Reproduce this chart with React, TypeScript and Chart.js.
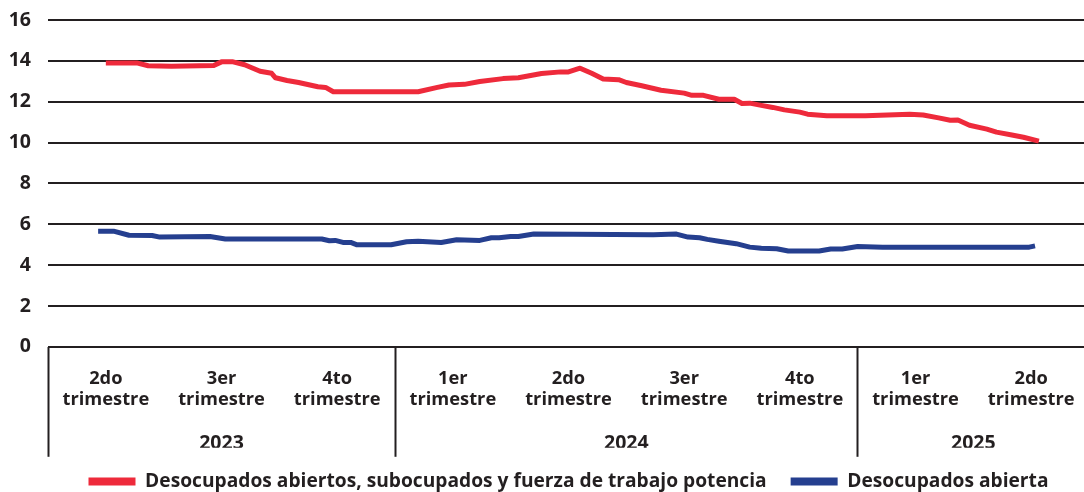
import React, { useEffect, useRef } from "react";
import { Chart, registerables } from "chart.js";

Chart.register(...registerables);

// x values are months counted from 1 April 2023
const quarterCenters = [1.5, 4.5, 7.5, 10.5, 13.5, 16.5, 19.5, 22.5, 25.5];
const quarterLabels = [
  ["2do", "trimestre"],
  ["3er", "trimestre"],
  ["4to", "trimestre"],
  ["1er", "trimestre"],
  ["2do", "trimestre"],
  ["3er", "trimestre"],
  ["4to", "trimestre"],
  ["1er", "trimestre"],
  ["2do", "trimestre"],
];
const yearCenters = [4.5, 15, 24];
const yearLabels = ["2023", "2024", "2025"];
const yearBoundaries = [0, 9, 21];

const redLabel = "Desocupados abiertos, subocupados y fuerza de trabajo potencia";
const redMonths = [
  1.5, 2.3, 2.6, 3.2, 4.3, 4.5, 4.8, 5.1, 5.5, 5.8, 5.9, 6.2, 6.5, 7.0, 7.2, 7.4, 8.0, 9.6,
  10.1, 10.4, 10.8, 11.2, 11.8, 12.2, 12.8, 13.3, 13.5, 13.8, 14.1, 14.4, 14.8, 15.0, 15.4,
  15.9, 16.5, 16.7, 17.0, 17.4, 17.8, 18.0, 18.2, 18.5, 18.8, 19.1, 19.5, 19.7, 20.2, 21.2,
  22.35, 22.7, 23.1, 23.4, 23.6, 23.9, 24.35, 24.6, 25.0, 25.3, 25.7,
];
const redValues = [
  13.9, 13.9, 13.76, 13.74, 13.77, 13.95, 13.95, 13.81, 13.49, 13.39, 13.17, 13.04, 12.94,
  12.73, 12.7, 12.49, 12.49, 12.49, 12.7, 12.82, 12.85, 12.99, 13.13, 13.17, 13.38, 13.46,
  13.46, 13.64, 13.39, 13.11, 13.08, 12.94, 12.78, 12.56, 12.42, 12.31, 12.31, 12.12, 12.12,
  11.91, 11.93, 11.82, 11.72, 11.6, 11.49, 11.39, 11.31, 11.31, 11.39, 11.35, 11.21, 11.09,
  11.1, 10.85, 10.66, 10.51, 10.37, 10.26, 10.07,
];

const blueLabel = "Desocupados abierta";
const blueMonths = [
  1.3, 1.7, 2.1, 2.7, 2.9, 4.2, 4.6, 7.1, 7.3, 7.45, 7.65, 7.85, 8.0, 8.9, 9.3, 9.6, 10.2,
  10.6, 11.2, 11.5, 11.7, 12.0, 12.2, 12.6, 15.7, 16.3, 16.6, 16.9, 17.1, 17.4, 17.85, 18.2,
  18.5, 18.9, 19.2, 20.0, 20.3, 20.6, 21.0, 21.65, 25.45, 25.6,
];
const blueValues = [
  5.66, 5.66, 5.46, 5.45, 5.37, 5.4, 5.28, 5.28, 5.19, 5.21, 5.11, 5.11, 5.0, 5.0, 5.14,
  5.17, 5.11, 5.24, 5.21, 5.34, 5.34, 5.4, 5.4, 5.52, 5.48, 5.52, 5.37, 5.34, 5.26, 5.17,
  5.05, 4.88, 4.82, 4.8, 4.69, 4.69, 4.79, 4.79, 4.91, 4.88, 4.88, 4.94,
];

const yTicks = [0, 2, 4, 6, 8, 10, 12, 14, 16];

const INK = "#231f20";
const RED = "#ee2a3b";
const BLUE = "#253f8f";
const FAMILY = "'Open Sans'";

const noPad = (s: any) => {
  s.paddingTop = 0;
  s.paddingBottom = 0;
  s.paddingLeft = 0;
  s.paddingRight = 0;
};

export default function App() {
  const ref = useRef<HTMLCanvasElement | null>(null);

  useEffect(() => {
    if (!ref.current) return;
    const toPts = (xs: number[], ys: number[]) => xs.map((x, i) => ({ x, y: ys[i] }));
    const chart = new Chart(ref.current, {
      type: "line",
      data: {
        datasets: [
          {
            label: redLabel,
            data: toPts(redMonths, redValues),
            borderColor: RED,
            backgroundColor: RED,
            borderWidth: 5,
            pointRadius: 0,
            tension: 0,
            borderJoinStyle: "round",
            xAxisID: "x",
            yAxisID: "y",
          },
          {
            label: blueLabel,
            data: toPts(blueMonths, blueValues),
            borderColor: BLUE,
            backgroundColor: BLUE,
            borderWidth: 5,
            pointRadius: 0,
            tension: 0,
            borderJoinStyle: "round",
            xAxisID: "x",
            yAxisID: "y",
          },
        ],
      },
      options: {
        responsive: false,
        animation: false,
        devicePixelRatio: 1,
        layout: { padding: { top: 20, left: 0, right: 0, bottom: 0 } },
        plugins: {
          tooltip: { enabled: false },
          legend: {
            position: "bottom",
            fullSize: false,
            labels: {
              boxWidth: 47,
              boxHeight: 8,
              padding: 24,
              color: INK,
              font: { family: FAMILY, size: 19.2, weight: "bold" },
              generateLabels: (c: any) =>
                Chart.defaults.plugins.legend.labels
                  .generateLabels(c)
                  .map((it: any) => ({ ...it, lineWidth: 0 })),
            },
          },
        },
        scales: {
          y: {
            type: "linear",
            min: 0,
            max: 16,
            afterBuildTicks: (s: any) => {
              s.ticks = yTicks.map((v) => ({ value: v }));
            },
            afterFit: (s: any) => {
              s.width = 48;
              noPad(s);
            },
            grid: { color: INK, lineWidth: 2, drawTicks: false },
            border: { display: false },
            ticks: {
              padding: 17,
              color: INK,
              font: { family: FAMILY, size: 19.5, weight: "bold" },
            },
          },
          xsep: {
            type: "linear",
            position: "bottom",
            weight: 0,
            min: 0,
            max: 27,
            afterBuildTicks: (s: any) => {
              s.ticks = yearBoundaries.map((v) => ({ value: v }));
            },
            afterFit: (s: any) => {
              s.height = 0;
              noPad(s);
            },
            grid: {
              display: true,
              drawOnChartArea: false,
              drawTicks: true,
              tickLength: 110,
              tickWidth: 2,
              tickColor: INK,
            },
            border: { display: false },
            ticks: { display: false },
          },
          x: {
            type: "linear",
            position: "bottom",
            weight: 1,
            min: 0,
            max: 27,
            afterBuildTicks: (s: any) => {
              s.ticks = quarterCenters.map((v) => ({ value: v }));
            },
            afterFit: (s: any) => {
              s.height = 80;
              noPad(s);
            },
            grid: { display: false, drawTicks: false },
            border: { display: false },
            ticks: {
              autoSkip: false,
              maxRotation: 0,
              minRotation: 0,
              padding: 21,
              color: INK,
              font: { family: FAMILY, size: 18.3, weight: "bold", lineHeight: 1.17 },
              callback: (_v: any, i: number) => quarterLabels[i],
            },
          },
          x2: {
            type: "linear",
            position: "bottom",
            weight: 2,
            min: 0,
            max: 27,
            afterBuildTicks: (s: any) => {
              s.ticks = yearCenters.map((v) => ({ value: v }));
            },
            afterFit: (s: any) => {
              s.height = 21;
              noPad(s);
            },
            grid: { display: false, drawTicks: false },
            border: { display: false },
            ticks: {
              autoSkip: false,
              maxRotation: 0,
              minRotation: 0,
              padding: 6,
              color: INK,
              font: { family: FAMILY, size: 19.5, weight: "bold", lineHeight: 1.1 },
              callback: (_v: any, i: number) => yearLabels[i],
            },
          },
        },
      } as any,
    });
    return () => chart.destroy();
  }, []);

  return (
    <div
      style={{
        position: "absolute",
        left: 0,
        top: 0,
        width: 1084,
        height: 492,
        overflow: "hidden",
        background: "#fff",
      }}
    >
      <canvas ref={ref} width={1089} height={501} style={{ display: "block" }} />
    </div>
  );
}
